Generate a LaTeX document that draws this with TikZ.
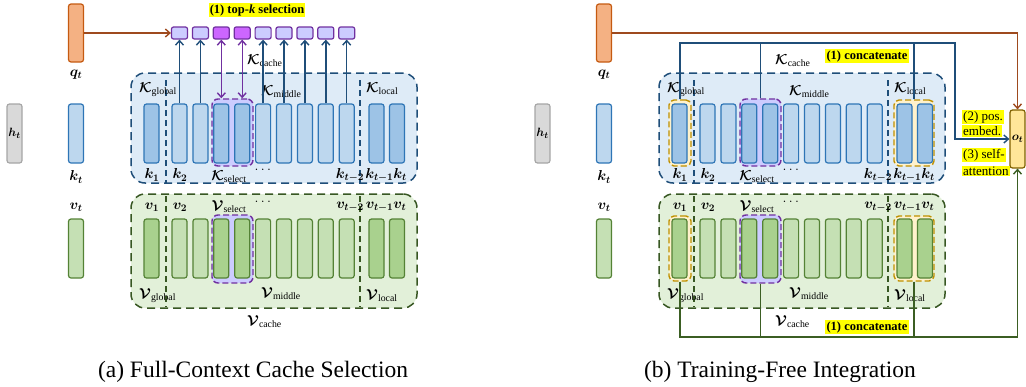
\documentclass[tikz,border=0pt]{standalone}
\usepackage{fontspec}
\setmainfont{Liberation Serif}
\usepackage{amsmath,bm}
\usetikzlibrary{arrows.meta}
\definecolor{kfill}{HTML}{BDD7EE}
\definecolor{kdark}{HTML}{9DC3E6}
\definecolor{kline}{HTML}{2E75B6}
\definecolor{kcfill}{HTML}{DEEBF7}
\definecolor{kcline}{HTML}{1F4E79}
\definecolor{vfill}{HTML}{C5E0B4}
\definecolor{vdark}{HTML}{A9D18E}
\definecolor{vline}{HTML}{548235}
\definecolor{vcfill}{HTML}{E2F0D9}
\definecolor{vcline}{HTML}{385723}
\definecolor{selfill}{HTML}{CCCCFF}
\definecolor{selline}{HTML}{7030A0}
\definecolor{topsel}{HTML}{CC66FF}
\definecolor{qfill}{HTML}{F4B183}
\definecolor{qline}{HTML}{C55A11}
\definecolor{qarrow}{HTML}{9E4A1E}
\definecolor{hfill}{HTML}{D9D9D9}
\definecolor{hline}{HTML}{A6A6A6}
\definecolor{ofill}{HTML}{FFE699}
\definecolor{oline}{HTML}{7F6000}
\definecolor{gline}{HTML}{BF9000}
\definecolor{gfill}{HTML}{FFF2CC}
\definecolor{hl}{HTML}{FFFF00}
\definecolor{busblue}{HTML}{1F4E79}
\definecolor{busgreen}{HTML}{3B5E23}

\newcommand{\panelbody}[2]{%
  \node[cell,draw=hline,fill=hfill] (#1h) at (14.5,133.5) {$\bm{h_t}$};
  \node[cell,draw=qline,fill=qfill,minimum height=58pt] (#1q) at (76,33) {};
  \node[lab] (#1ql) at (76,75) {$\bm{q_t}$};
  \node[kcell] (#1k) at (76,133.5) {};
  \node[lab] (#1kl) at (76,177) {$\bm{k_t}$};
  \node[vcell] (#1v) at (76,248.5) {};
  \node[lab] (#1vl) at (76,207) {$\bm{v_t}$};
  % caches
  \node[kcache,minimum width=286pt,minimum height=110pt] (#1kc) at (274,128) {};
  \node[vcache,minimum width=286pt,minimum height=114pt] (#1vc) at (274,251) {};
  \draw[divider,draw=kcline] (166,80) -- (166,183);
  \draw[divider,draw=kcline] (360,80) -- (360,183);
  \draw[divider,draw=vcline] (166,196) -- (166,307);
  \draw[divider,draw=vcline] (360,196) -- (360,307);
  \node[selbox,minimum width=41pt,minimum height=67pt] (#1ks) at (232.5,132.5) {};
  \node[selbox,minimum width=41pt,minimum height=68pt] (#1vs) at (232.5,249) {};
  #2%
  % cells
  \node[kcelld] (#1k1) at (151.5,133.5) {};
  \node[vcelld] (#1v1) at (151.5,248.5) {};
  \foreach \i/\ks/\vs in {1/kcell/vcell,2/kcell/vcell,3/kcelld/vcelld,4/kcelld/vcelld,5/kcell/vcell,6/kcell/vcell,7/kcell/vcell,8/kcell/vcell,9/kcell/vcell}{
    \node[\ks] (#1km\i) at ({179.5+20.9*(\i-1)},133.5) {};
    \node[\vs] (#1vm\i) at ({179.5+20.9*(\i-1)},248.5) {};
  }
  \node[kcelld] (#1kla) at (376.5,133.5) {};
  \node[kcelld] (#1klb) at (397,133.5) {};
  \node[vcelld] (#1vla) at (376.5,248.5) {};
  \node[vcelld] (#1vlb) at (397,248.5) {};
  % K labels
  \node[lab,anchor=west] (#1Kg) at (139,90) {$\bm{\mathcal{K}}_{\mathrm{global}}$};
  \node[lab,anchor=west] (#1Km) at (261,92) {$\bm{\mathcal{K}}_{\mathrm{middle}}$};
  \node[lab,anchor=west] (#1Kl) at (366,89) {$\bm{\mathcal{K}}_{\mathrm{local}}$};
  \node[lab,anchor=west] (#1Kc) at (247,61) {$\bm{\mathcal{K}}_{\mathrm{cache}}$};
  \node[lab] (#1k1l) at (152,175) {$\bm{k_1}$};
  \node[lab] (#1k2l) at (180,175) {$\bm{k_2}$};
  \node[lab] (#1ksl) at (229,177) {$\bm{\mathcal{K}}_{\mathrm{select}}$};
  \node[lab] (#1kd) at (264,170) {$\dots$};
  \node[lab] (#1ktl) at (350,175) {$\bm{k_{t-2}}$};
  \node[lab] (#1kll) at (386,175) {$\bm{k_{t-1}}\bm{k_t}$};
  % V labels
  \node[lab] (#1v1l) at (152,207) {$\bm{v_1}$};
  \node[lab] (#1v2l) at (180,207) {$\bm{v_2}$};
  \node[lab] (#1vsl) at (229,207) {$\bm{\mathcal{V}}_{\mathrm{select}}$};
  \node[lab] (#1vd) at (264,202) {$\dots$};
  \node[lab] (#1vtl) at (350,207) {$\bm{v_{t-2}}$};
  \node[lab] (#1vll) at (386,207) {$\bm{v_{t-1}}\bm{v_t}$};
  \node[lab,anchor=west] (#1Vg) at (139,296) {$\bm{\mathcal{V}}_{\mathrm{global}}$};
  \node[lab,anchor=west] (#1Vm) at (261,294) {$\bm{\mathcal{V}}_{\mathrm{middle}}$};
  \node[lab,anchor=west] (#1Vl) at (366,296) {$\bm{\mathcal{V}}_{\mathrm{local}}$};
  \node[lab,anchor=west] (#1Vc) at (247,322) {$\bm{\mathcal{V}}_{\mathrm{cache}}$};
}

\begin{document}
\begin{tikzpicture}[x=1pt,y=-1pt,
  cell/.style={rectangle,rounded corners=2.5pt,line width=1.2pt,inner sep=0pt,
    minimum width=15pt,minimum height=59pt,font=\fontsize{13}{15}\selectfont},
  kcell/.style={cell,draw=kline,fill=kfill},
  kcelld/.style={cell,draw=kline,fill=kdark},
  vcell/.style={cell,draw=vline,fill=vfill},
  vcelld/.style={cell,draw=vline,fill=vdark},
  cachebox/.style={rectangle,rounded corners=14pt,line width=1.5pt,dash pattern=on 8pt off 5pt,inner sep=0pt},
  kcache/.style={cachebox,draw=kcline,fill=kcfill},
  vcache/.style={cachebox,draw=vcline,fill=vcfill},
  selbox/.style={rectangle,rounded corners=6pt,line width=1.4pt,dash pattern=on 6pt off 3pt,draw=selline,fill=selfill,inner sep=0pt},
  goldbox/.style={rectangle,rounded corners=5pt,line width=1.4pt,dash pattern=on 6pt off 3pt,draw=gline,fill=gfill,inner sep=0pt},
  divider/.style={line width=1.2pt,dash pattern=on 6pt off 4pt},
  topbox/.style={rectangle,rounded corners=2pt,line width=1.2pt,draw=selline,fill=selfill,minimum width=16pt,minimum height=12pt,inner sep=0pt},
  lab/.style={font=\fontsize{14}{16}\selectfont,inner sep=0pt},
  arr/.style={-{Straight Barb[length=4.5pt,width=8pt]},line width=1.4pt},
  darr/.style={{Straight Barb[length=4.5pt,width=8pt]}-{Straight Barb[length=4.5pt,width=8pt]},line width=1.4pt},
  hlbox/.style={fill=hl,inner sep=1.2pt,font=\fontsize{12.5}{14}\selectfont\bfseries},
  hltext/.style={fill=hl,inner sep=1pt,anchor=west,font=\fontsize{13}{15}\selectfont},
  caption/.style={font=\fontsize{23.5}{26}\selectfont,inner sep=0pt}
]
\useasboundingbox (0,0) rectangle (1026,386);

% ---------------- (a) ----------------
\begin{scope}
\panelbody{a}{}
\foreach \i/\st in {1/selfill,2/selfill,3/topsel,4/topsel,5/selfill,6/selfill,7/selfill,8/selfill,9/selfill}{
  \node[topbox,fill=\st] (at\i) at ({179.5+20.9*(\i-1)},33) {};
}
\foreach \i in {1,2,5,6,7,8,9}{
  \draw[arr,draw=busblue] (akm\i.north) -- (at\i.south);
}
\foreach \i in {3,4}{
  \draw[darr,draw=selline] (at\i.south) -- (akm\i.north |- aks.north);
}
\draw[arr,draw=qarrow] (aq.east) -- (at1.west);
\node[hlbox] (atopk) at (257,10) {(1) top-\textit{k} selection};
\node[caption] (acap) at (253,372) {(a) Full-Context Cache Selection};
\end{scope}

% ---------------- (b) ----------------
\begin{scope}[xshift=528pt]
\panelbody{b}{%
  \node[goldbox,minimum width=22pt,minimum height=66pt] (bkg1) at (152,133) {};
  \node[goldbox,minimum width=40pt,minimum height=66pt] (bkgl) at (386,133) {};
  \node[goldbox,minimum width=22pt,minimum height=65pt] (bvg1) at (152,248.5) {};
  \node[goldbox,minimum width=40pt,minimum height=65pt] (bvgl) at (386,248.5) {};
}
\node[caption] (bcap) at (252,372) {(b) Training-Free Integration};
\end{scope}

\node[cell,draw=oline,fill=ofill,minimum height=58pt] (bo) at (1017.5,139) {$\bm{o_t}$};
\coordinate (kbus) at (955,43);
\coordinate (vbus) at (1017.5,337);
% query line
\draw[arr,draw=qarrow] (bq.east) -| (bo.north);
% K concatenation
\draw[arr,draw=busblue] (bkg1.north) |- (kbus) |- (bo.west);
\draw[line width=1.4pt,draw=busblue] (bks.north) -- (bks.north |- kbus);
\draw[line width=1.4pt,draw=busblue] (bkgl.north) -- (bkgl.north |- kbus);
% V concatenation
\draw[arr,draw=busgreen] (bvg1.south) |- (vbus) -- (bo.south);
\draw[line width=1.4pt,draw=busgreen] (bvs.south) -- (bvs.south |- vbus);
\draw[line width=1.4pt,draw=busgreen] (bvgl.south) -- (bvgl.south |- vbus);
% labels
\node[hlbox] (bcatk) at (867,56) {(1) concatenate};
\node[hlbox] (bcatv) at (867,327) {(1) concatenate};
\node[hltext] (bpos1) at (962,117) {(2) pos.};
\node[hltext] (bpos2) at (962,131) {embed.};
\node[hltext] (bsa1) at (962,155) {(3) self-};
\node[hltext] (bsa2) at (962,171) {attention};
\end{tikzpicture}
\end{document}
